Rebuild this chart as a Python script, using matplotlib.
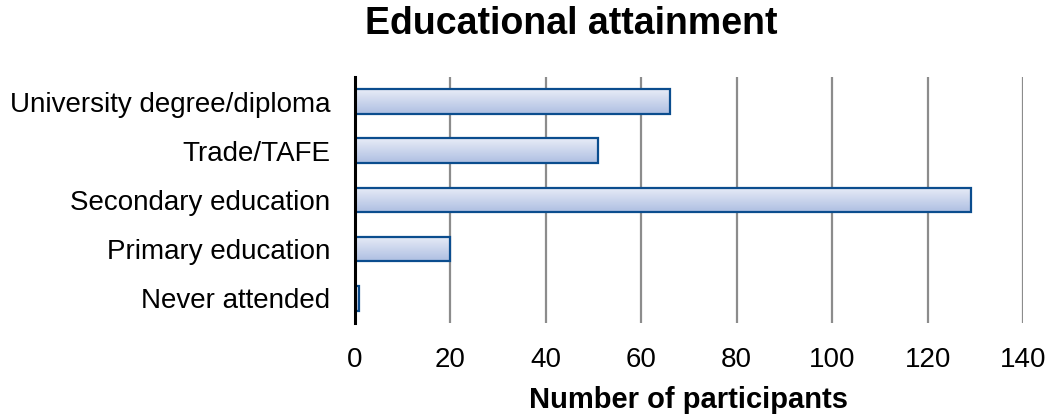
import numpy as np
import matplotlib
matplotlib.use("Agg")
import matplotlib.pyplot as plt
from matplotlib.colors import LinearSegmentedColormap

categories = ["University degree/diploma", "Trade/TAFE", "Secondary education",
              "Primary education", "Never attended"]
participants = [66, 51, 129, 20, 1]
x_ticks = [0, 20, 40, 60, 80, 100, 120, 140]

plt.rcParams["font.family"] = ["Liberation Sans", "DejaVu Sans"]

fig = plt.figure(figsize=(10.51, 4.18), dpi=100)
ax = fig.add_axes([0.3375, 0.2273, 0.6359, 0.5885])

ypos = np.arange(len(categories))[::-1]
bar_h = 0.5
edge = "#0b4d8e"
grad_cmap = LinearSegmentedColormap.from_list("barfill", ["#e8ecf7", "#aebfe2"])
grad = np.linspace(0, 1, 64).reshape(-1, 1)

for y, v in zip(ypos, participants):
    ax.imshow(grad, cmap=grad_cmap, aspect="auto", interpolation="bilinear",
              extent=[0, v, y - bar_h / 2, y + bar_h / 2], zorder=2)
bars = ax.barh(ypos, participants, height=bar_h, facecolor="none",
               edgecolor=edge, linewidth=1.6, zorder=3)

ax.set_xlim(0, 140)
ax.set_ylim(-0.5, len(categories) - 0.5)
ax.set_xticks(x_ticks)
ax.set_yticks(ypos)
ax.set_yticklabels(categories, fontsize=20)
ax.tick_params(axis="x", labelsize=20, length=0, pad=17)
ax.tick_params(axis="y", length=0, pad=17.5)

ax.grid(axis="x", color="#8c8c8c", linewidth=1.6, zorder=1)
ax.set_axisbelow(True)
for s in ["top", "right", "bottom"]:
    ax.spines[s].set_visible(False)
ax.spines["left"].set_linewidth(2.2)
ax.spines["left"].set_color("black")
ax.spines["left"].set_zorder(4)

ax.set_xlabel("Number of participants", fontsize=21, fontweight="bold", labelpad=10)
fig.text(571 / 1051, 1 - 34.5 / 418, "Educational attainment", fontsize=27,
         fontweight="bold", ha="center", va="baseline")

fig.savefig("out.png", dpi=100)
